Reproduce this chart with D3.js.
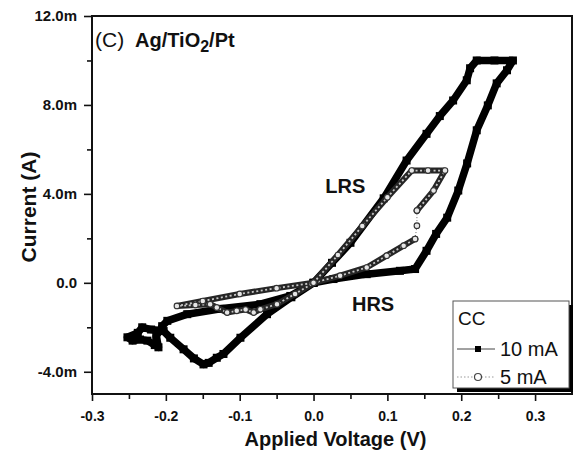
<!DOCTYPE html>
<html>
<head>
<meta charset="utf-8">
<script src="https://cdn.jsdelivr.net/npm/d3@7"></script>
<style>
  body { margin: 0; background: #fff; }
  svg text { font-family: "Liberation Sans", Arial, sans-serif; fill: #111; }
</style>
</head>
<body>
<div id="chart-area"></div>
<script>
// values: [voltage (V), current (mA)]
var cc10 = [
  [0, 0], [0.027, 0.17], [0.072, 0.39], [0.117, 0.54], [0.1375, 0.62],
  [0.153, 1.44], [0.166, 2.2], [0.181, 2.93], [0.196, 4.15], [0.208, 5.37],
  [0.221, 6.86], [0.236, 7.98], [0.248, 8.97], [0.262, 9.56], [0.270, 10.0],
  [0.245, 10.0], [0.221, 10.0], [0.212, 9.65], [0.2075, 9.11], [0.189, 8.2],
  [0.171, 7.5], [0.153, 6.7], [0.126, 5.5], [0.095, 3.8], [0.05, 1.8],
  [0.025, 0.9], [0, 0], [-0.03, -0.65], [-0.063, -1.41], [-0.099, -2.47],
  [-0.122, -3.2], [-0.131, -3.37], [-0.142, -3.6], [-0.149, -3.67], [-0.162, -3.4],
  [-0.176, -2.99], [-0.194, -2.47], [-0.203, -2.17], [-0.22, -2.1], [-0.232, -2.0],
  [-0.238, -2.25], [-0.252, -2.45], [-0.245, -2.6], [-0.235, -2.55], [-0.225, -2.6],
  [-0.215, -2.8], [-0.21, -2.9], [-0.213, -2.4], [-0.205, -1.95], [-0.198, -1.71],
  [-0.171, -1.41], [-0.126, -1.17], [-0.072, -0.96], [-0.0315, -0.59], [0, 0]
];
var cc5Set = [
  [0, 0], [0.036, 0.32], [0.072, 0.69], [0.099, 1.22], [0.122, 1.67], [0.1375, 1.97]
];
var cc5Jump = [
  [0.1375, 1.97], [0.14, 2.57], [0.14, 3.25]
];
var cc5Reset = [
  [0.14, 3.25], [0.1625, 4.15], [0.178, 5.05], [0.155, 5.05], [0.133, 5.05],
  [0.1, 3.85], [0.066, 2.55], [0.033, 1.25], [0, 0], [-0.025, -0.5],
  [-0.0495, -0.96], [-0.072, -1.19], [-0.081, -1.34], [-0.092, -1.2], [-0.104, -1.26],
  [-0.117, -1.34], [-0.131, -1.11], [-0.14, -0.96], [-0.16, -1.0], [-0.185, -1.04],
  [-0.15, -0.82], [-0.1, -0.5], [-0.05, -0.24], [0, 0]
];

var xTicks = [-0.3, -0.2, -0.1, 0, 0.1, 0.2, 0.3];
var xTickLabels = ["-0.3", "-0.2", "-0.1", "0.0", "0.1", "0.2", "0.3"];
var xMinor = [-0.25, -0.15, -0.05, 0.05, 0.15, 0.25];
var yTicks = [-4, 0, 4, 8, 12];
var yTickLabels = ["-4.0m", "0.0", "4.0m", "8.0m", "12.0m"];
var yMinor = [-2, 2, 6, 10];
var legendNames = ["10 mA", "5 mA"];

// dimensions
var margin = {left: 92, right: 1, top: 16, bottom: 60};
var width = 573 - margin.left - margin.right,
    height = 454 - margin.top - margin.bottom;

var svg = d3.select("#chart-area")
  .append("svg")
    .attr("width", 573)
    .attr("height", 454)
  .append("g")
    .attr("transform", "translate(" + margin.left + "," + margin.top + ")");

var x = d3.scaleLinear().domain([-0.3, 0.35]).range([0, width]);
var y = d3.scaleLinear().domain([-5, 12]).range([height, 0]);

// axes
var xAxis = svg.append("g")
  .attr("transform", "translate(0," + height + ")")
  .call(d3.axisBottom(x).tickValues(xTicks)
    .tickFormat(function(d, i) { return xTickLabels[i]; })
    .tickSize(7).tickPadding(10).tickSizeOuter(0));
svg.append("g")
  .attr("transform", "translate(0," + height + ")")
  .call(d3.axisBottom(x).tickValues(xMinor).tickFormat("").tickSize(5).tickSizeOuter(0));

var yAxis = svg.append("g")
  .call(d3.axisLeft(y).tickValues(yTicks)
    .tickFormat(function(d, i) { return yTickLabels[i]; })
    .tickSize(8).tickPadding(7).tickSizeOuter(0));
svg.append("g")
  .call(d3.axisLeft(y).tickValues(yMinor).tickFormat("").tickSize(5).tickSizeOuter(0));

svg.selectAll(".domain").remove();
svg.selectAll(".tick line").attr("stroke", "#111").attr("stroke-width", 1.6);
xAxis.selectAll("text").attr("font-size", "14px").attr("font-weight", "bold");
yAxis.selectAll("text").attr("font-size", "15px").attr("font-weight", "bold");

// frame
svg.append("rect")
  .attr("width", width).attr("height", height)
  .attr("fill", "none").attr("stroke", "#111").attr("stroke-width", 2);

// axis titles
svg.append("text")
  .attr("x", 243.5).attr("y", height + 52)
  .attr("text-anchor", "middle")
  .attr("font-size", "20px").attr("font-weight", "bold")
  .text("Applied Voltage (V)");

svg.append("text")
  .attr("transform", "rotate(-90)")
  .attr("x", -191).attr("y", -56)
  .attr("text-anchor", "middle")
  .attr("font-size", "21px").attr("font-weight", "bold")
  .text("Current (A)");

// title
svg.append("text")
  .attr("x", 3).attr("y", 31)
  .attr("font-size", "21px")
  .text("(C)");
var title = svg.append("text")
  .attr("x", 43).attr("y", 31)
  .attr("font-size", "20px").attr("font-weight", "bold");
title.append("tspan").text("Ag/TiO");
title.append("tspan").attr("dy", 5).attr("font-size", "16px").text("2");
title.append("tspan").attr("dy", -5).text("/Pt");

var line = d3.line()
  .x(function(d) { return x(d[0]); })
  .y(function(d) { return y(d[1]); });

// 10 mA curve: dense filled squares
svg.append("path")
  .datum(cc10)
  .attr("d", line)
  .attr("fill", "none").attr("stroke", "#000")
  .attr("stroke-width", 7.5).attr("stroke-linejoin", "round").attr("stroke-linecap", "round");
svg.selectAll(".sq")
  .data(cc10)
  .enter().append("rect")
    .attr("class", "sq")
    .attr("x", function(d) { return x(d[0]) - 4; })
    .attr("y", function(d) { return y(d[1]) - 4; })
    .attr("width", 8).attr("height", 8)
    .attr("fill", "#000");

// 5 mA curve: dense open circles
[cc5Set, cc5Reset].forEach(function(seg) {
  svg.append("path")
    .datum(seg)
    .attr("d", line)
    .attr("fill", "none").attr("stroke", "#262626")
    .attr("stroke-width", 6).attr("stroke-linejoin", "round").attr("stroke-linecap", "round");
  svg.append("path")
    .datum(seg)
    .attr("d", line)
    .attr("fill", "none").attr("stroke", "#c8c8c8")
    .attr("stroke-width", 1.8).attr("stroke-dasharray", "2,2.5");
});
svg.append("path")
  .datum(cc5Jump)
  .attr("d", line)
  .attr("fill", "none").attr("stroke", "#666")
  .attr("stroke-width", 1).attr("stroke-dasharray", "1,2");
svg.selectAll(".circ")
  .data(cc5Set.concat(cc5Jump, cc5Reset))
  .enter().append("circle")
    .attr("class", "circ")
    .attr("cx", function(d) { return x(d[0]); })
    .attr("cy", function(d) { return y(d[1]); })
    .attr("r", 2.8)
    .attr("fill", "#e6e6e6").attr("stroke", "#333").attr("stroke-width", 1.1);

// annotations
svg.append("text")
  .attr("x", x(0.016)).attr("y", y(4.05))
  .attr("font-size", "20px").attr("font-weight", "bold")
  .text("LRS");
svg.append("text")
  .attr("x", x(0.052)).attr("y", y(-1.25))
  .attr("font-size", "20px").attr("font-weight", "bold")
  .text("HRS");

// legend
var legend = svg.append("g")
  .attr("transform", "translate(" + (width - 119) + "," + (height - 93) + ")");
legend.append("rect")
  .attr("x", 4).attr("y", 4).attr("width", 116).attr("height", 87)
  .attr("fill", "#000");
legend.append("rect")
  .attr("width", 116).attr("height", 87)
  .attr("fill", "#fff").attr("stroke", "#555").attr("stroke-width", 1);
legend.append("text")
  .attr("x", 5).attr("y", 24)
  .attr("font-size", "19px")
  .text("CC");

legendNames.forEach(function(name, i) {
  var ly = 48 + i * 28;
  legend.append("line")
    .attr("x1", 4).attr("x2", 42).attr("y1", ly).attr("y2", ly)
    .attr("stroke", i === 0 ? "#444" : "#999").attr("stroke-width", 1)
    .attr("stroke-dasharray", i === 0 ? null : "1.5,2");
  if (i === 0) {
    legend.append("rect")
      .attr("x", 22).attr("y", ly - 3).attr("width", 6).attr("height", 6)
      .attr("fill", "#000");
  } else {
    legend.append("circle")
      .attr("cx", 25).attr("cy", ly).attr("r", 3.5)
      .attr("fill", "#fff").attr("stroke", "#444").attr("stroke-width", 1.2);
  }
  legend.append("text")
    .attr("x", 47).attr("y", ly + 6.5)
    .attr("font-size", "20px")
    .text(name);
});
</script>
</body>
</html>
